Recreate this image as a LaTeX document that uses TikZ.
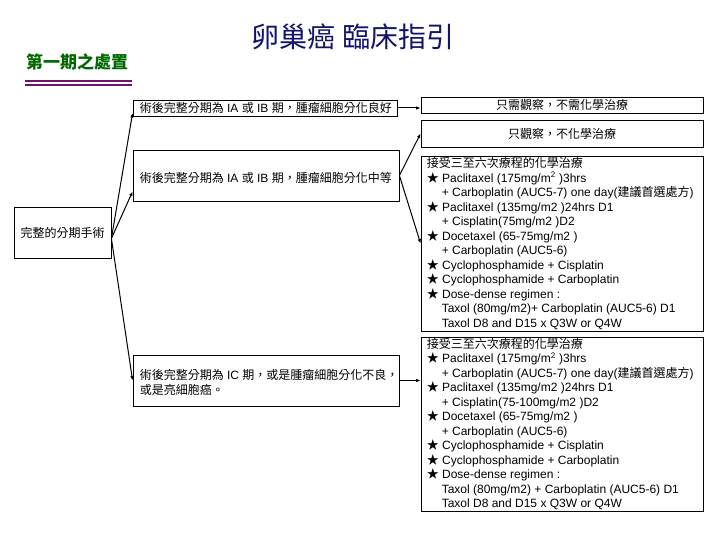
\documentclass[tikz,border=0pt]{standalone}
\usepackage{fontspec}
\setmainfont{Liberation Sans}
\newfontfamily\cjk{Noto Sans CJK TC}
\usetikzlibrary{arrows.meta}
\definecolor{titleblue}{RGB}{20,20,110}
\definecolor{hdrgreen}{RGB}{0,105,0}
\definecolor{rulepurple}{RGB}{110,20,110}
\newcommand\zh[1]{{\cjk #1}}
\newcommand\ind{\hspace*{15pt}}
\begin{document}
\begin{tikzpicture}[x=1pt,y=-1pt,
  box/.style 2 args={draw,line width=0.8pt,inner sep=0pt,minimum width=#1,minimum height=#2},
  txt/.style={inner sep=0pt,font=\fontsize{12}{14.5}\selectfont},
  ltxt/.style={txt,align=left,anchor=west},
  conn/.style={line width=1pt,-{Latex[length=4.5pt,width=3.5pt]}}]
\useasboundingbox (0,0) rectangle (720,540);
% title and header
\node[txt,font=\fontsize{28}{32}\selectfont,text=titleblue] (title) at (353,37) {\zh{卵巢癌 臨床指引}};
\node[txt,font=\fontsize{17}{20}\selectfont\bfseries,text=hdrgreen,anchor=west] (hdr) at (26,62) {\zh{第一期之處置}};
\draw[rulepurple,line width=2pt] (25,81) -- (132,81);
\draw[rulepurple,line width=1.2pt] (25,85) -- (132,85);
% boxes
\node[box={97pt}{51pt},txt] (E) at (62.5,232.5) {\zh{完整的分期手術}};
\node[box={264pt}{16pt}] (A) at (265,108) {};
\node[ltxt] (At) at ([xshift=7pt]A.west) {\zh{術後完整分期為} IA \zh{或} IB \zh{期，腫瘤細胞分化良好}};
\node[box={266pt}{51pt}] (D) at (266,175.5) {};
\node[ltxt] (Dt) at ([xshift=7pt,yshift=-2pt]D.west) {\zh{術後完整分期為} IA \zh{或} IB \zh{期，腫瘤細胞分化中等}};
\node[box={266pt}{51pt}] (G) at (266,380.5) {};
\node[ltxt] (Gt) at ([xshift=7pt,yshift=-2pt]G.west) {\zh{術後完整分期為} IC \zh{期，或是腫瘤細胞分化不良，}\\\zh{或是亮細胞癌。}};
\node[box={282pt}{16pt},txt] (B) at (562,105) {\zh{只需觀察，不需化學治療}};
\node[box={282pt}{27pt},txt] (C) at (562,133.5) {\zh{只觀察，不化學治療}};
\node[box={282pt}{175pt}] (F) at (562,243.5) {};
\node[ltxt] (Ft) at ([xshift=6pt]F.west) {\zh{接受三至六次療程的化學治療}\\
\zh{★} Paclitaxel (175mg/m\textsuperscript{2} )3hrs\\
\ind + Carboplatin (AUC5-7) one day(\zh{建議首選處方})\\
\zh{★} Paclitaxel (135mg/m2 )24hrs D1\\
\ind + Cisplatin(75mg/m2 )D2\\
\zh{★} Docetaxel (65-75mg/m2 )\\
\ind + Carboplatin (AUC5-6)\\
\zh{★} Cyclophosphamide + Cisplatin\\
\zh{★} Cyclophosphamide + Carboplatin\\
\zh{★} Dose-dense regimen :\\
\ind Taxol (80mg/m2)+ Carboplatin (AUC5-6) D1\\
\ind Taxol D8 and D15 x Q3W or Q4W};
\node[box={282pt}{174pt}] (H) at (562,424) {};
\node[ltxt] (Ht) at ([xshift=6pt]H.west) {\zh{接受三至六次療程的化學治療}\\
\zh{★} Paclitaxel (175mg/m\textsuperscript{2} )3hrs\\
\ind + Carboplatin (AUC5-7) one day(\zh{建議首選處方})\\
\zh{★} Paclitaxel (135mg/m2 )24hrs D1\\
\ind + Cisplatin(75-100mg/m2 )D2\\
\zh{★} Docetaxel (65-75mg/m2 )\\
\ind + Carboplatin (AUC5-6)\\
\zh{★} Cyclophosphamide + Cisplatin\\
\zh{★} Cyclophosphamide + Carboplatin\\
\zh{★} Dose-dense regimen :\\
\ind Taxol (80mg/m2) + Carboplatin (AUC5-6) D1\\
\ind Taxol D8 and D15 x Q3W or Q4W};
% connectors
\coordinate (Eo) at ([yshift=-6pt]E.east);
\draw[conn] (Eo) -- ([yshift=-5pt]A.west);
\draw[conn] (Eo) -- ([yshift=-16pt]D.west);
\draw[conn] (Eo) -- (G.west);
\draw[conn] (A.east) -- (A.east -| B.west);
\draw[conn] (D.east) -- (C.west);
\draw[conn] (D.east) -- (F.west);
\draw[conn] (G.east) -- (G.east -| H.west);
\end{tikzpicture}
\end{document}
